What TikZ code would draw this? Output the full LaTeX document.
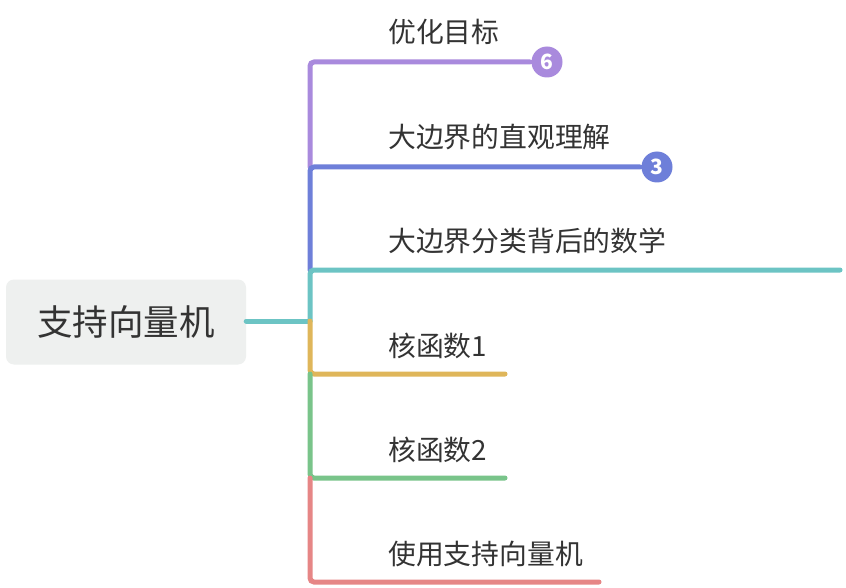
\documentclass[tikz,border=0pt]{standalone}
\usepackage{fontspec}
\setmainfont{Noto Sans CJK SC}
\newfontfamily\cjk{Noto Sans CJK SC}
\usetikzlibrary{calc}
\definecolor{cpurple}{HTML}{A98ADD}
\definecolor{cblue}{HTML}{6E7FD9}
\definecolor{cteal}{HTML}{6CC4C4}
\definecolor{cyellow}{HTML}{DFB65A}
\definecolor{cgreen}{HTML}{79C48A}
\definecolor{cred}{HTML}{E68686}
\definecolor{ctext}{HTML}{333333}
\definecolor{croot}{HTML}{EEF0EF}
\begin{document}
\begin{tikzpicture}[x=1pt,y=-1pt,
  branch/.style={line width=5pt, line cap=round, rounded corners=4pt},
  lbl/.style={anchor=west, inner sep=0pt, text=ctext, font=\cjk\fontsize{27.8}{30}\selectfont},
  badge/.style={circle, inner sep=0pt, minimum size=31pt, text=white, font=\cjk\bfseries\fontsize{21}{22}\selectfont},
  rootbox/.style={rounded corners=8pt, fill=croot, minimum width=240pt, minimum height=85pt, text=ctext, font=\cjk\fontsize{35.5}{38}\selectfont}]
\useasboundingbox (0,0) rectangle (846,588);
\fill[white] (0,0) rectangle (846,588);

\node[rootbox] (root) at (126,322) {支持向量机};
\coordinate (hub) at (310,321);
\coordinate (p1) at (310,62);
\coordinate (p2) at (310,167);
\coordinate (p3) at (310,270);
\coordinate (p4) at (310,374);
\coordinate (p5) at (310,478);
\coordinate (p6) at (310,582);
\coordinate (e1) at (530,62);
\coordinate (e2) at (640,167);
\coordinate (e3) at (840,270);
\coordinate (e4) at (505,374);
\coordinate (e5) at (505,478);
\coordinate (e6) at (599,582);

\draw[branch, cteal] (root.east |- hub) -- (hub);
\draw[branch, cpurple] (p2) -- (p1) -- (e1);
\draw[branch, cblue] (p3) -- (p2) -- (e2);
\draw[branch, cteal] (hub) -- (p3) -- (e3);
\draw[branch, cyellow] (hub) -- (p4) -- (e4);
\draw[branch, cgreen] (p4) -- (p5) -- (e5);
\draw[branch, cred] (p5) -- (p6) -- (e6);

\node[badge, fill=cpurple] (b1) at (547,62) {6};
\node[badge, fill=cblue] (b2) at (657,167) {3};

\node[lbl] (t1) at (388,32) {优化目标};
\node[lbl] (t2) at (388,137) {大边界的直观理解};
\node[lbl] (t3) at (388,241) {大边界分类背后的数学};
\node[lbl] (t4) at (388,346) {核函数1};
\node[lbl] (t5) at (388,450) {核函数2};
\node[lbl] (t6) at (388,554) {使用支持向量机};
\end{tikzpicture}
\end{document}
